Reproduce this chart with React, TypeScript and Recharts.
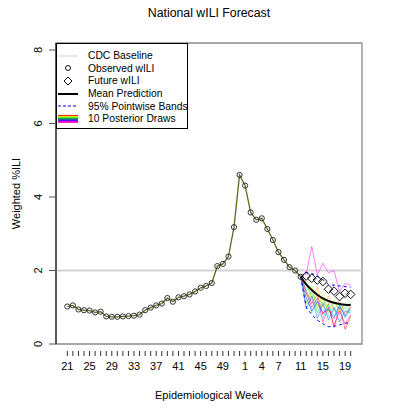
import React from 'react'
import { ComposedChart, Line, XAxis, YAxis, ReferenceLine, ReferenceArea, Legend } from 'recharts'

// epidemiological weeks shown on the x axis (one tick per week)
const WEEKS = [
  21, 22, 23, 24, 25, 26, 27, 28, 29, 30, 31, 32, 33, 34, 35, 36, 37, 38, 39, 40, 41, 42, 43, 44, 45, 46,
  47, 48, 49, 50, 51, 52, 1, 2, 3, 4, 5, 6, 7, 8, 9, 10, 11, 12, 13, 14, 15, 16, 17, 18, 19, 20,
]
const LABELED_WEEKS = [21, 25, 29, 33, 37, 41, 45, 49, 1, 4, 7, 11, 15, 19]

const OBSERVED = [
  1.02, 1.05, 0.94, 0.92, 0.91, 0.86, 0.88, 0.75, 0.74, 0.74, 0.75, 0.76, 0.77, 0.8, 0.92, 0.99, 1.05, 1.1,
  1.25, 1.15, 1.27, 1.3, 1.35, 1.43, 1.53, 1.58, 1.66, 2.12, 2.18, 2.38, 3.18, 4.6, 4.31, 3.58, 3.38, 3.42,
  3.13, 2.83, 2.5, 2.29, 2.09, 2.0, 1.83,
]
// weeks 12..20
const FUTURE = [1.85, 1.79, 1.74, 1.7, 1.49, 1.44, 1.29, 1.38, 1.35]
// forecast series start at week 11 (last observed)
const MEAN_PRED = [1.83, 1.62, 1.47, 1.34, 1.24, 1.17, 1.12, 1.09, 1.07, 1.06]
const BAND_UPPER = [1.83, 1.94, 1.92, 1.85, 1.75, 1.62, 1.6, 1.58, 1.56, 1.55]
const BAND_LOWER = [1.83, 1.0, 0.8, 0.65, 0.55, 0.47, 0.48, 0.52, 0.56, 0.6]
const DRAWS = [
  [1.83, 1.45, 1.1, 1.35, 0.8, 1.1, 0.45, 1.0, 0.4, 0.75],
  [1.83, 1.7, 1.2, 1.55, 1.0, 1.3, 0.9, 1.2, 0.8, 1.05],
  [1.83, 1.3, 1.6, 0.95, 1.4, 0.9, 1.2, 0.85, 1.1, 0.95],
  [1.83, 1.1, 1.45, 1.0, 1.25, 0.85, 1.15, 0.95, 1.05, 1.1],
  [1.83, 1.6, 1.35, 0.85, 1.15, 0.75, 0.95, 0.8, 1.0, 0.9],
  [1.83, 1.5, 0.85, 1.2, 0.7, 1.05, 0.75, 1.1, 0.7, 0.95],
  [1.83, 0.95, 1.3, 0.7, 1.1, 0.65, 1.0, 0.6, 0.9, 0.85],
  [1.83, 1.25, 0.9, 1.15, 0.85, 0.95, 0.7, 1.05, 0.75, 1.0],
  [1.83, 1.9, 2.65, 1.88, 2.2, 1.94, 2.0, 1.42, 1.65, 1.6],
  [1.83, 1.4, 1.0, 1.25, 0.6, 1.0, 0.5, 0.9, 0.55, 0.8],
]
const DRAW_COLORS = ['#FF0000', '#FF9900', '#CCFF00', '#33FF00', '#00FF66', '#00FFFF', '#0066FF', '#3300FF', '#FF00FF', '#FF0099']
const CDC_BASELINE = 2.0

const LEGEND_ITEMS = ['CDC Baseline', 'Observed wILI', 'Future wILI', 'Mean Prediction', '95% Pointwise Bands', '10 Posterior Draws']

const FC_START = OBSERVED.length - 1

const data = WEEKS.map((week, i) => {
  const row: Record<string, number | null> = {
    idx: i + 1,
    week,
    observed: i < OBSERVED.length ? OBSERVED[i] : null,
    future: i >= OBSERVED.length ? FUTURE[i - OBSERVED.length] ?? null : null,
    mean: i >= FC_START ? MEAN_PRED[i - FC_START] ?? null : null,
    upper: i >= FC_START ? BAND_UPPER[i - FC_START] ?? null : null,
    lower: i >= FC_START ? BAND_LOWER[i - FC_START] ?? null : null,
  }
  DRAWS.forEach((d, k) => {
    row[`draw${k}`] = i >= FC_START ? d[i - FC_START] ?? null : null
  })
  return row
})

const FONT = '"Liberation Sans", Arial, Helvetica, sans-serif'

const XTick = (props: any) => {
  const { x, y, payload } = props
  const week = WEEKS[payload.value - 1]
  return (
    <g>
      <line x1={x} x2={x} y1={y + 7} y2={y + 12} stroke="#333" />
      {LABELED_WEEKS.includes(week) && (
        <text x={x} y={y + 26} textAnchor="middle" fontSize={11} fill="#000">{week}</text>
      )}
    </g>
  )
}

const YTick = (props: any) => {
  const { x, y, payload } = props
  return (
    <text x={x - 5} y={y} transform={`rotate(-90, ${x - 5}, ${y})`} textAnchor="middle" fontSize={11} fill="#000">
      {payload.value}
    </text>
  )
}

const Diamond = (props: any) => {
  const { cx, cy, value, index } = props
  if (value == null || cy == null) return <g key={`d${index}`} />
  const r = 4.3
  return (
    <polygon key={`d${index}`} points={`${cx},${cy - r} ${cx + r},${cy} ${cx},${cy + r} ${cx - r},${cy}`}
      fill="none" stroke="#111" strokeWidth={1} />
  )
}

const LegendBox = () => {
  const icon = (i: number) => {
    if (i === 0) return <line x1={0} x2={20} y1={6} y2={6} stroke="#cfcfcf" strokeWidth={1} />
    if (i === 1) return <circle cx={10} cy={6} r={2.5} fill="none" stroke="#111" />
    if (i === 2) return <polygon points="10,2 14,6 10,10 6,6" fill="none" stroke="#111" />
    if (i === 3) return <line x1={0} x2={20} y1={6} y2={6} stroke="#000" strokeWidth={2} />
    if (i === 4) return <line x1={0} x2={20} y1={6} y2={6} stroke="#0000ff" strokeDasharray="3 2" />
    return (
      <g>
        {DRAW_COLORS.map((c, k) => (
          <line key={c} x1={0} x2={20} y1={2.5 + k * 0.75} y2={2.5 + k * 0.75} stroke={c} strokeWidth={1.2} />
        ))}
        <line x1={0} x2={20} y1={6} y2={6} stroke="#333" strokeWidth={1} />
      </g>
    )
  }
  return (
    <div style={{
      width: 132, height: 86, border: '1px solid #000', background: '#fff', boxSizing: 'border-box',
      paddingTop: 5.5, fontFamily: FONT, fontSize: 10.3, color: '#000',
    }}>
      {LEGEND_ITEMS.map((t, i) => (
        <div key={t} style={{ height: 12.6, display: 'flex', alignItems: 'center' }}>
          <svg width={22} height={12} style={{ marginLeft: 1, flex: 'none' }}>{icon(i)}</svg>
          <span style={{ marginLeft: 8, whiteSpace: 'nowrap' }}>{t}</span>
        </div>
      ))}
    </div>
  )
}

export default function App() {
  return (
    <div style={{ position: 'absolute', left: 0, top: 0, width: 407, height: 407, background: '#fff', fontFamily: FONT }}>
      <div style={{ position: 'absolute', left: 0, top: 6, width: 418, textAlign: 'center', fontSize: 12.3, color: '#000' }}>
        National wILI Forecast
      </div>
      <ComposedChart width={407} height={407} data={data} margin={{ top: 43, right: 45, bottom: 33, left: 16 }}>
        <XAxis dataKey="idx" type="number" domain={[-1.04, 54.04]} ticks={data.map(d => d.idx as number)}
          allowDataOverflow axisLine={false} tickLine={false} tickSize={0} tickMargin={0} height={30}
          tick={<XTick />} interval={0}
          label={{ value: 'Epidemiological Week', position: 'bottom', offset: 17, fontSize: 11, fill: '#000' }} />
        <YAxis type="number" domain={[0, 8.19]} ticks={[0, 2, 4, 6, 8]} allowDataOverflow width={40}
          tickSize={7} tickMargin={2} axisLine={{ stroke: '#000' }} tickLine={{ stroke: '#555' }} tick={<YTick />}
          label={{ value: 'Weighted %ILI', angle: -90, position: 'insideLeft', offset: 0, fontSize: 11, fill: '#000', style: { textAnchor: 'middle' } }} />
        <ReferenceArea x1={-1.04} x2={54.04} y1={0} y2={8.19} fill="none" stroke="#8a8a8a" strokeWidth={1.3} ifOverflow="visible" />
        <ReferenceLine y={CDC_BASELINE} stroke="#d3d3d3" strokeWidth={2} />
        {DRAWS.map((_, k) => (
          <Line key={k} dataKey={`draw${k}`} stroke={DRAW_COLORS[k]} strokeOpacity={0.5} strokeWidth={1}
            dot={false} isAnimationActive={false} connectNulls={false} />
        ))}
        <Line dataKey="upper" stroke="#0000ff" strokeDasharray="3 3" strokeWidth={1} dot={false} isAnimationActive={false} />
        <Line dataKey="lower" stroke="#0000ff" strokeDasharray="3 3" strokeWidth={1} dot={false} isAnimationActive={false} />
        <Line dataKey="mean" type="monotone" stroke="#000" strokeWidth={2} dot={false} isAnimationActive={false} />
        <Line dataKey="observed" stroke="#5b6b1e" strokeWidth={1.3}
          dot={{ r: 2.6, stroke: '#333', strokeWidth: 1, fill: 'none' }} isAnimationActive={false} />
        <Line dataKey="future" stroke="none" dot={<Diamond />} isAnimationActive={false} />
        <Legend layout="vertical" align="center" verticalAlign="middle" content={<LegendBox />}
          wrapperStyle={{ left: 56, top: 43, width: 132, height: 86 }} />
      </ComposedChart>
    </div>
  )
}
